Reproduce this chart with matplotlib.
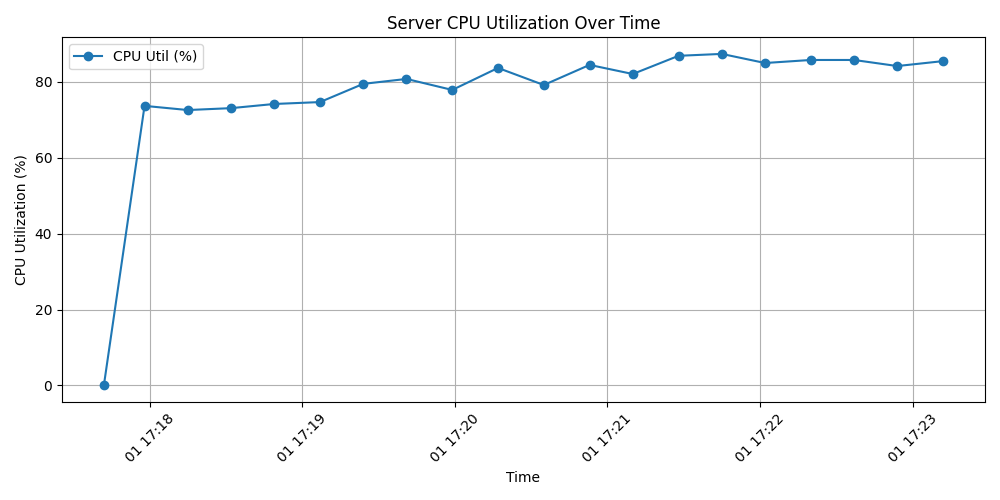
import matplotlib
matplotlib.use("Agg")
import matplotlib.pyplot as plt
import matplotlib.dates as mdates
import pandas as pd

# --------------------  Data ----------------------- #
timestamps = pd.to_datetime([
    "2024-01-01 17:17:42", "2024-01-01 17:17:58", "2024-01-01 17:18:15",
    "2024-01-01 17:18:32", "2024-01-01 17:18:49", "2024-01-01 17:19:07",
    "2024-01-01 17:19:24", "2024-01-01 17:19:41", "2024-01-01 17:19:59",
    "2024-01-01 17:20:17", "2024-01-01 17:20:35", "2024-01-01 17:20:53",
    "2024-01-01 17:21:10", "2024-01-01 17:21:28", "2024-01-01 17:21:45",
    "2024-01-01 17:22:02", "2024-01-01 17:22:20", "2024-01-01 17:22:37",
    "2024-01-01 17:22:54", "2024-01-01 17:23:12",
])
cpu_util = [0.0, 73.7, 72.6, 73.1, 74.2, 74.7, 79.5, 80.8, 77.9, 83.7,
            79.2, 84.5, 82.1, 86.9, 87.4, 85.0, 85.8, 85.8, 84.2, 85.5]

# -----------------------  Plot -------------------------- #
fig, ax = plt.subplots(figsize=(10, 5), dpi=100)
ax.plot(timestamps, cpu_util, marker='o', label='CPU Util (%)')
ax.set_title('Server CPU Utilization Over Time')
ax.set_xlabel('Time')
ax.set_ylabel('CPU Utilization (%)')
ax.xaxis.set_major_locator(mdates.MinuteLocator())
ax.xaxis.set_major_formatter(mdates.DateFormatter('%d %H:%M'))
plt.setp(ax.get_xticklabels(), rotation=45)
ax.grid(True)
ax.legend(loc='upper left')
plt.tight_layout()
plt.savefig('out.png')
